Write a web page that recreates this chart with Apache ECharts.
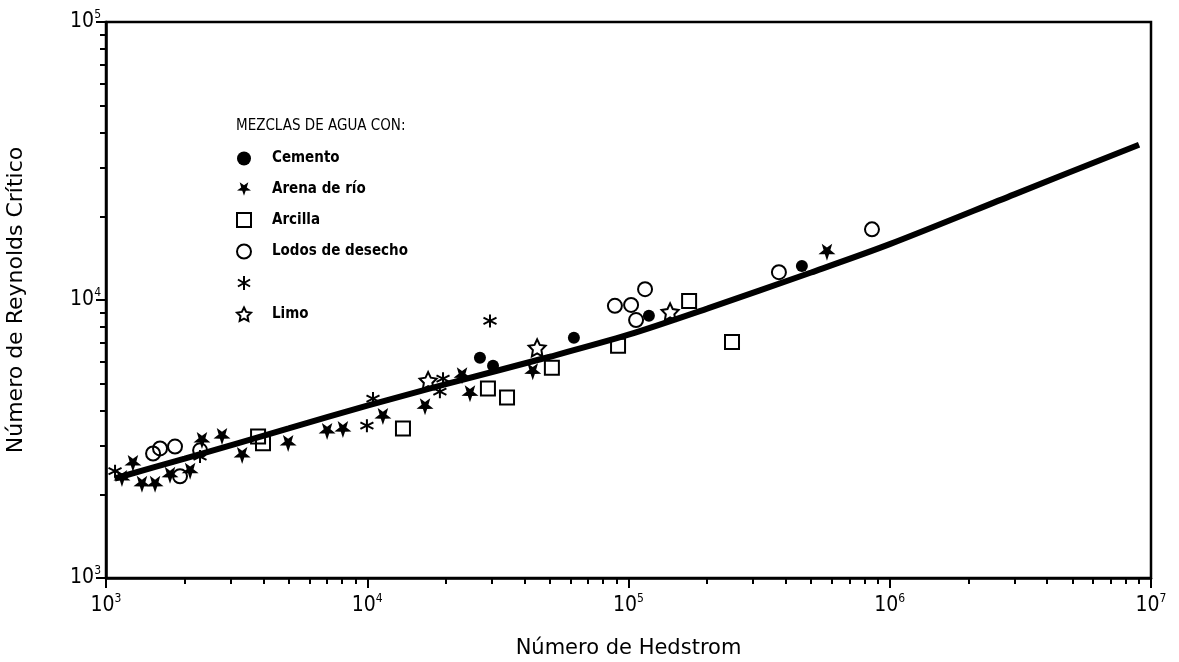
<!DOCTYPE html>
<html>
<head>
<meta charset="utf-8">
<script src="https://cdn.jsdelivr.net/npm/echarts@6/dist/echarts.min.js"></script>
<style>
  html, body { margin: 0; padding: 0; background: #fff; }
  #chart { width: 1179px; height: 662px; }
</style>
</head>
<body>
<div id="chart"></div>
<script>
// data: [Hedstrom, Reynolds critico]
var cemento = [[27000, 6200], [30300, 5800], [61800, 7310], [119700, 8770], [461000, 13240]];
var arenaRio = [[1151, 2282], [1268, 2582], [1373, 2173], [1541, 2173], [1758, 2340], [2099, 2422],
  [2330, 3126], [2780, 3228], [3320, 2761], [4980, 3048], [7020, 3367], [8070, 3420],
  [11480, 3810], [16640, 4130], [23060, 5340], [24730, 4600], [43000, 5520], [575000, 14860]];
var arcilla = [[3820, 3228], [3990, 3050], [13700, 3450], [28970, 4800], [34280, 4460],
  [50900, 5700], [91200, 6840], [170600, 9910], [249000, 7060]];
var lodos = [[1514, 2805], [1610, 2924], [1837, 2970], [1920, 2323], [2292, 2880], [88700, 9530],
  [102300, 9600], [115700, 10940], [106900, 8470], [376500, 12590], [855000, 17950]];
var asterisco = [[1083, 2422], [2290, 2735], [9970, 3530], [10520, 4420], [19500, 5210],
  [18970, 4680], [29500, 8410]];
var limo = [[17100, 5130], [44700, 6730], [144300, 9060]];
// curva de ajuste
var curva = [[1080, 2280], [2000, 2690], [5000, 3450], [10000, 4170], [20000, 4980], [50000, 6250],
  [100000, 7500], [200000, 9310], [500000, 12560], [1000000, 15880], [3000000, 23990], [9000000, 36200]];

var xMajor = [1e3, 1e4, 1e5, 1e6, 1e7];
var yMajor = [1e3, 1e4, 1e5];

var legendNames = ['Cemento', 'Arena de río', 'Arcilla', 'Lodos de desecho', 'asterisco', 'Limo'];

function minorTicks(from, to) {
  var out = [];
  for (var d = from; d < to; d *= 10) {
    for (var k = 2; k <= 9; k++) out.push(k * d);
  }
  return out;
}
var xMinor = minorTicks(1e3, 1e7);
var yMinor = minorTicks(1e3, 1e5);

var starPath = 'path://M10,20L7.65,13.24L0.49,13.09L6.2,8.76L4.12,1.91L10,6L15.88,1.91L13.8,8.76L19.51,13.09L12.35,13.24Z';
var asterPath = 'path://M10,0L10,20M1.34,5L18.66,15M1.34,15L18.66,5';
var limoPath = 'path://M10,0L12.94,5.95L19.51,6.91L14.76,11.55L15.88,18.09L10,15L4.12,18.09L5.24,11.55L0.49,6.91L7.06,5.95Z';

function powLabel(v) {
  return '{b|10}{s|' + Math.round(Math.log10(v)) + '}';
}
var labelRich = {
  b: { fontFamily: 'DejaVu Sans Condensed', fontSize: 21, color: '#000', lineHeight: 26 },
  s: { fontFamily: 'DejaVu Sans Condensed', fontSize: 12, color: '#000', verticalAlign: 'top', lineHeight: 26 }
};

var chart = echarts.init(document.getElementById('chart'), null, { renderer: 'canvas' });

var option = {
  backgroundColor: '#fff',
  animation: false,
  title: {
    text: 'MEZCLAS DE AGUA CON:',
    left: 236,
    top: 119,
    padding: 0,
    textStyle: { fontFamily: 'DejaVu Sans Condensed', fontWeight: 'normal', fontSize: 15, color: '#000' }
  },
  legend: {
    orient: 'vertical',
    left: 236,
    top: 151,
    padding: 0,
    itemWidth: 14,
    itemHeight: 14,
    itemGap: 15.5,
    data: legendNames,
    formatter: function (name) { return name === 'asterisco' ? '' : name; },
    textStyle: {
      fontFamily: 'DejaVu Sans Condensed', fontWeight: 'bold', fontSize: 15, color: '#000',
      lineHeight: 14, padding: [0, 0, 0, 16]
    }
  },
  grid: {
    left: 106, right: 28, top: 22, bottom: 84,
    outerBoundsMode: 'none',
    show: true, borderColor: '#000', borderWidth: 2.5
  },
  xAxis: [{
    type: 'log', logBase: 10, min: 1e3, max: 1e7, position: 'bottom',
    name: 'Número de Hedstrom', nameLocation: 'middle', nameGap: 60,
    nameTextStyle: { fontFamily: 'DejaVu Sans', fontSize: 21, color: '#000' },
    axisLine: { lineStyle: { color: '#000', width: 2.5 } },
    axisTick: { customValues: xMajor, length: 10, lineStyle: { color: '#000', width: 2 } },
    axisLabel: { customValues: xMajor, formatter: powLabel, rich: labelRich, margin: 15 },
    splitLine: { show: false }
  }, {
    type: 'log', logBase: 10, min: 1e3, max: 1e7, position: 'bottom',
    axisLine: { show: false },
    axisTick: { customValues: xMinor, length: 6, lineStyle: { color: '#000', width: 2 } },
    axisLabel: { show: false },
    splitLine: { show: false }
  }],
  yAxis: [{
    type: 'log', logBase: 10, min: 1e3, max: 1e5, position: 'left',
    name: 'Número de Reynolds Crítico', nameLocation: 'middle', nameGap: 79, nameRotate: 90,
    nameTextStyle: { fontFamily: 'DejaVu Sans', fontSize: 22, color: '#000' },
    axisLine: { lineStyle: { color: '#000', width: 2.5 } },
    axisTick: { customValues: yMajor, length: 10, lineStyle: { color: '#000', width: 2 } },
    axisLabel: { customValues: yMajor, formatter: powLabel, rich: labelRich, margin: 5 },
    splitLine: { show: false }
  }, {
    type: 'log', logBase: 10, min: 1e3, max: 1e5, position: 'left',
    axisLine: { show: false },
    axisTick: { customValues: yMinor, length: 6, lineStyle: { color: '#000', width: 2 } },
    axisLabel: { show: false },
    splitLine: { show: false }
  }],
  series: [{
    name: 'curva', type: 'line', data: curva, smooth: 0.3, showSymbol: false, symbol: 'none',
    lineStyle: { color: '#000', width: 6 }, z: 1
  }, {
    name: 'Cemento', type: 'scatter', data: cemento, symbol: 'circle', symbolSize: 12,
    itemStyle: { color: '#000', opacity: 1 }, z: 3
  }, {
    name: 'Arena de río', type: 'scatter', data: arenaRio, symbol: starPath, symbolSize: 17,
    itemStyle: { color: '#000', opacity: 1 }, z: 3
  }, {
    name: 'Arcilla', type: 'scatter', data: arcilla, symbol: 'rect', symbolSize: 14,
    itemStyle: { color: 'rgba(0,0,0,0)', borderColor: '#000', borderWidth: 2, opacity: 1 }, z: 3
  }, {
    name: 'Lodos de desecho', type: 'scatter', data: lodos, symbol: 'circle', symbolSize: 14,
    itemStyle: { color: 'rgba(0,0,0,0)', borderColor: '#000', borderWidth: 2, opacity: 1 }, z: 3
  }, {
    name: 'asterisco', type: 'scatter', data: asterisco, symbol: asterPath, symbolSize: 13,
    itemStyle: { color: 'rgba(0,0,0,0)', borderColor: '#000', borderWidth: 2, opacity: 1 }, z: 3
  }, {
    name: 'Limo', type: 'scatter', data: limo, symbol: limoPath, symbolSize: 17,
    itemStyle: { color: 'rgba(0,0,0,0)', borderColor: '#000', borderWidth: 2, opacity: 1 }, z: 3
  }]
};

chart.setOption(option);
</script>
</body>
</html>
